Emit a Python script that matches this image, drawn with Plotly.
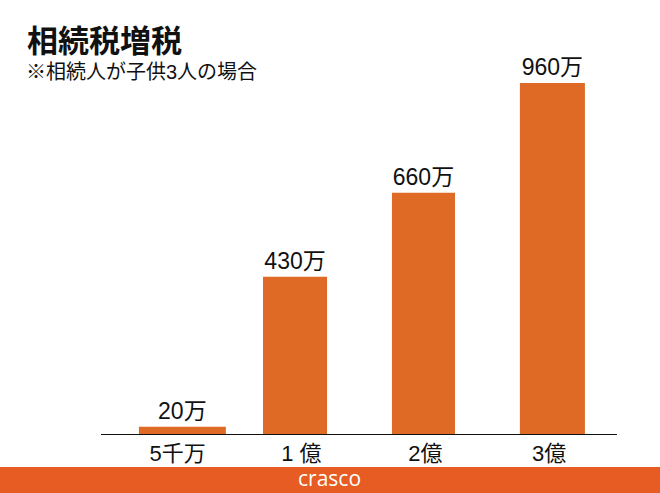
import plotly.graph_objects as go

categories = ["5千万", "1 億", "2億", "3億"]
values = [20, 430, 660, 960]
value_labels = ["20万", "430万", "660万", "960万"]

title_text = "相続税増税"
subtitle_text = "※相続人が子供3人の場合"
brand_text = "crasco"

BAR_COLOR = "#DE6A26"
BAND_COLOR = "#E65C22"
FONT = "Liberation Sans, Noto Sans CJK JP, sans-serif"

W, H = 660, 493
L, R, T, B = 101, 43, 40, 59
pw, ph = W - L - R, H - T - B

def px_x(p):
    return (p - L) / pw

def px_y(p):
    return (H - B - p) / ph

fig = go.Figure()
fig.add_trace(go.Bar(
    x=categories,
    y=values,
    text=value_labels,
    textposition="outside",
    textfont=dict(size=23, color="#111111", family=FONT),
    cliponaxis=False,
    marker=dict(color=BAR_COLOR, line=dict(width=0)),
    width=[0.702, 0.517, 0.509, 0.525],
    offset=[-0.312, -0.310, -0.269, -0.236],
    hoverinfo="skip",
))

fig.update_layout(
    width=W, height=H,
    margin=dict(l=L, r=R, t=T, b=B),
    paper_bgcolor="white",
    plot_bgcolor="white",
    showlegend=False,
    font=dict(family=FONT, color="#111111"),
    xaxis=dict(
        type="category",
        range=[-0.618, 3.548],
        showline=True, linecolor="#111111", linewidth=1,
        showgrid=False, zeroline=False,
        ticks="",
        tickfont=dict(size=22, family=FONT, color="#111111"),
        fixedrange=True,
    ),
    yaxis=dict(
        range=[0, 1077.6],
        visible=False,
        showgrid=False, zeroline=False,
        fixedrange=True,
    ),
    shapes=[dict(
        type="rect", xref="paper", yref="paper",
        x0=px_x(-5), x1=px_x(W + 5), y0=px_y(467), y1=px_y(H + 5),
        fillcolor=BAND_COLOR, line=dict(width=0), layer="above",
    )],
    annotations=[
        dict(text="<b>" + title_text + "</b>", xref="paper", yref="paper",
             x=px_x(25), y=px_y(38), xanchor="left", yanchor="middle",
             showarrow=False, font=dict(size=31, family="Noto Sans CJK JP", color="#111111")),
        dict(text=subtitle_text, xref="paper", yref="paper",
             x=px_x(24), y=px_y(72), xanchor="left", yanchor="middle",
             showarrow=False, font=dict(size=20, family=FONT, color="#111111")),
        dict(text=brand_text, xref="paper", yref="paper",
             x=px_x(329), y=px_y(478.5), xanchor="center", yanchor="middle",
             showarrow=False, font=dict(size=21, family="Open Sans", color="white")),
    ],
)

fig.write_html("out.html", config={"displayModeBar": False},
               post_script="document.body.style.margin='0';document.body.style.overflow='hidden';")
